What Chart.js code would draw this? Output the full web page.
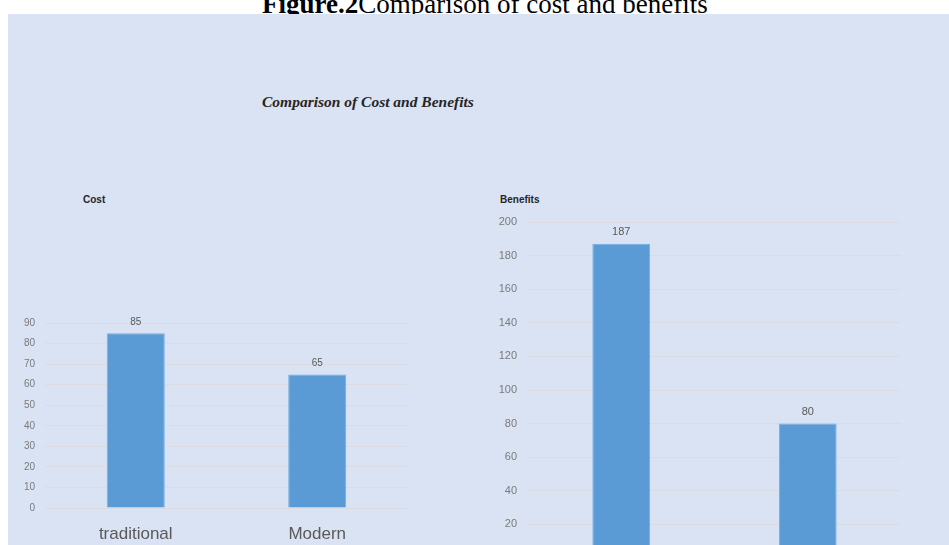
<!DOCTYPE html>
<html lang="en">

<head>

    <meta charset="UTF-8">
    <title>Comparison of cost and benefits</title>
    <style>
        body { margin: 0; background: #ffffff; width: 949px; height: 545px; overflow: hidden; position: relative; }
        #caption { position: absolute; left: 262px; top: -9px; font: 27px/27px "Liberation Serif", serif; color: #000; white-space: nowrap; }
        #panel { position: absolute; left: 8px; top: 14px; width: 941px; height: 531px; background: #dae3f3; overflow: hidden; }
        #mainTitle { position: absolute; left: 254px; top: 80px; font: italic bold 15.5px/15.5px "Liberation Serif", serif; color: #262626; white-space: nowrap; }
        .subTitle { position: absolute; top: 180px; font: bold 10px/12px "Liberation Sans", sans-serif; color: #262626; }
        #costBox { position: absolute; left: 0; top: 0; width: 420px; height: 531px; }
        #benefitBox { position: absolute; left: 460px; top: 0; width: 481px; height: 600px; }
    </style>

</head>

<body>

    <div id="caption"><b>Figure.2</b>Comparison of cost and benefits</div>
    <div id="panel">
        <div id="mainTitle">Comparison of Cost and Benefits</div>
        <div class="subTitle" style="left: 75px;">Cost</div>
        <div class="subTitle" style="left: 492px;">Benefits</div>
        <div id="costBox"><canvas id="costChart"></canvas></div>
        <div id="benefitBox"><canvas id="benefitChart"></canvas></div>
    </div>

    <script src="https://cdn.jsdelivr.net/npm/chart.js"></script>
    <script>

        const categories = ["traditional", "Modern"]
        const costValues = [85, 65]
        const benefitValues = [187, 80]
        const costTicks = { min: 0, max: 90, step: 10 }
        const benefitTicks = { min: 0, max: 200, step: 20 }

        // writes the value above each bar
        const valueLabels = {
            id: 'valueLabels',
            afterDatasetsDraw(chart, args, opts) {
                const ctx = chart.ctx
                ctx.save()
                ctx.font = opts.font
                ctx.fillStyle = '#595959'
                ctx.textAlign = 'center'
                ctx.textBaseline = 'middle'
                chart.getDatasetMeta(0).data.forEach((bar, i) => {
                    ctx.fillText(chart.data.datasets[0].data[i], bar.x, bar.y - opts.gap)
                })
                ctx.restore()
            }
        }

        function getBarConfig(values, ticks, label, sizes) {
            return {
                type: 'bar',
                data: {
                    labels: categories,
                    datasets: [{
                        label: label,
                        data: values,
                        backgroundColor: '#5b9bd5',
                        borderColor: '#78ade0',
                        borderWidth: 1,
                        categoryPercentage: 1,
                        barPercentage: sizes.bar
                    }]
                },
                options: {
                    responsive: false,
                    animation: false,
                    events: [],
                    layout: { padding: sizes.padding },
                    plugins: {
                        legend: { display: false },
                        tooltip: { enabled: false },
                        valueLabels: { font: sizes.valueFont, gap: sizes.gap }
                    },
                    scales: {
                        x: {
                            grid: { display: false },
                            border: { display: false },
                            ticks: {
                                color: '#595959',
                                padding: sizes.xPad,
                                font: { family: 'Liberation Sans', size: 17 }
                            },
                            afterFit(scale) { scale.height = 37 }
                        },
                        y: {
                            min: ticks.min,
                            max: ticks.max,
                            border: { display: false },
                            grid: { color: '#dadce2', drawTicks: false },
                            ticks: {
                                stepSize: ticks.step,
                                color: '#7a7a7a',
                                padding: sizes.yPad,
                                font: { family: 'Liberation Sans', size: sizes.tickSize }
                            },
                            afterFit(scale) { scale.width = 30 }
                        }
                    }
                },
                plugins: [valueLabels]
            }
        }

        const costCanvas = document.getElementById('costChart')
        costCanvas.width = 420
        costCanvas.height = 531
        const benefitCanvas = document.getElementById('benefitChart')
        benefitCanvas.width = 481
        benefitCanvas.height = 600

        let costChart = new Chart(costCanvas, getBarConfig(costValues, costTicks, 'Cost', {
            bar: 0.32,
            padding: { left: 7, right: 20, top: 309, bottom: 0 },
            xPad: 8,
            yPad: 10,
            tickSize: 10,
            valueFont: '10px "Liberation Sans"',
            gap: 11
        }))

        let benefitChart = new Chart(benefitCanvas, getBarConfig(benefitValues, benefitTicks, 'Benefits', {
            bar: 0.31,
            padding: { left: 30, right: 48, top: 208, bottom: 19 },
            xPad: 8,
            yPad: 11,
            tickSize: 11,
            valueFont: '11px "Liberation Sans"',
            gap: 12
        }))

    </script>

</body>

</html>
